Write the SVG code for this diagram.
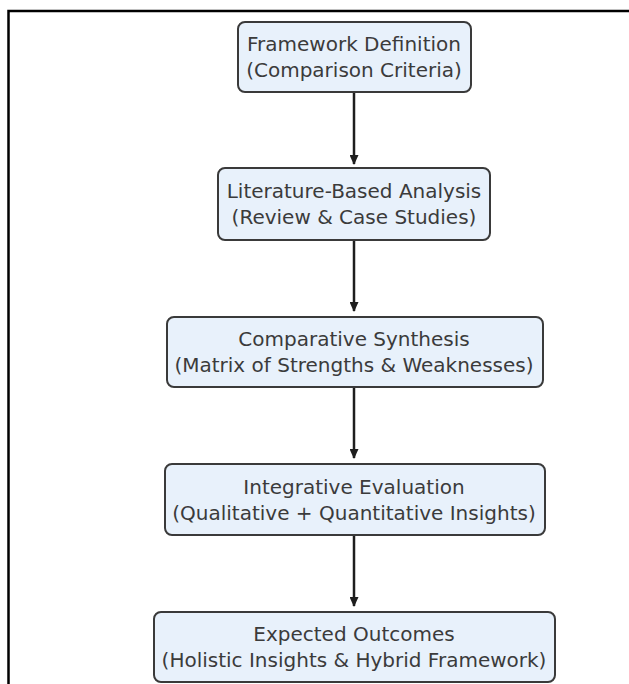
<svg xmlns="http://www.w3.org/2000/svg" width="629" height="684" viewBox="0 0 629 684">
<defs>
<style>
.box{fill:#e8f1fb;stroke:#3a3a3a;stroke-width:2}
.t{font-family:"DejaVu Sans",sans-serif;font-size:20px;fill:#3b3b3b;text-anchor:middle}
.edge{stroke:#1e1e1e;stroke-width:2.5;fill:none;marker-end:url(#ah)}
</style>
<marker id="ah" viewBox="0 0 10 10" refX="9" refY="5" markerWidth="4" markerHeight="3.6" markerUnits="strokeWidth" orient="auto" preserveAspectRatio="none">
<path d="M0,0 L10,5 L0,10 Z" fill="#1e1e1e"/>
</marker>
</defs>
<rect width="629" height="684" fill="#ffffff"/>
<path d="M8.5,684 V11 H629" fill="none" stroke="#000" stroke-width="2.5"/>
<g id="connectors">
<line class="edge" x1="354" y1="93" x2="354" y2="164"/>
<line class="edge" x1="354" y1="241" x2="354" y2="311"/>
<line class="edge" x1="354" y1="388" x2="354" y2="458"/>
<line class="edge" x1="354" y1="536" x2="354" y2="606"/>
</g>
<g id="n1">
<rect class="box" x="238" y="22" width="233" height="70" rx="7"/>
<text class="t" x="354" y="51">Framework Definition</text>
<text class="t" x="354" y="77">(Comparison Criteria)</text>
</g>
<g id="n2">
<rect class="box" x="218" y="168" width="272" height="72" rx="7"/>
<text class="t" x="354" y="198">Literature-Based Analysis</text>
<text class="t" x="354" y="224">(Review &amp; Case Studies)</text>
</g>
<g id="n3">
<rect class="box" x="167" y="317" width="376" height="70" rx="7"/>
<text class="t" x="354" y="346">Comparative Synthesis</text>
<text class="t" x="354" y="372">(Matrix of Strengths &amp; Weaknesses)</text>
</g>
<g id="n4">
<rect class="box" x="165" y="464" width="380" height="71" rx="7"/>
<text class="t" x="354" y="494">Integrative Evaluation</text>
<text class="t" x="354" y="520">(Qualitative + Quantitative Insights)</text>
</g>
<g id="n5">
<rect class="box" x="154" y="612" width="401" height="70" rx="7"/>
<text class="t" x="354" y="641">Expected Outcomes</text>
<text class="t" x="354" y="667">(Holistic Insights &amp; Hybrid Framework)</text>
</g>
</svg>
